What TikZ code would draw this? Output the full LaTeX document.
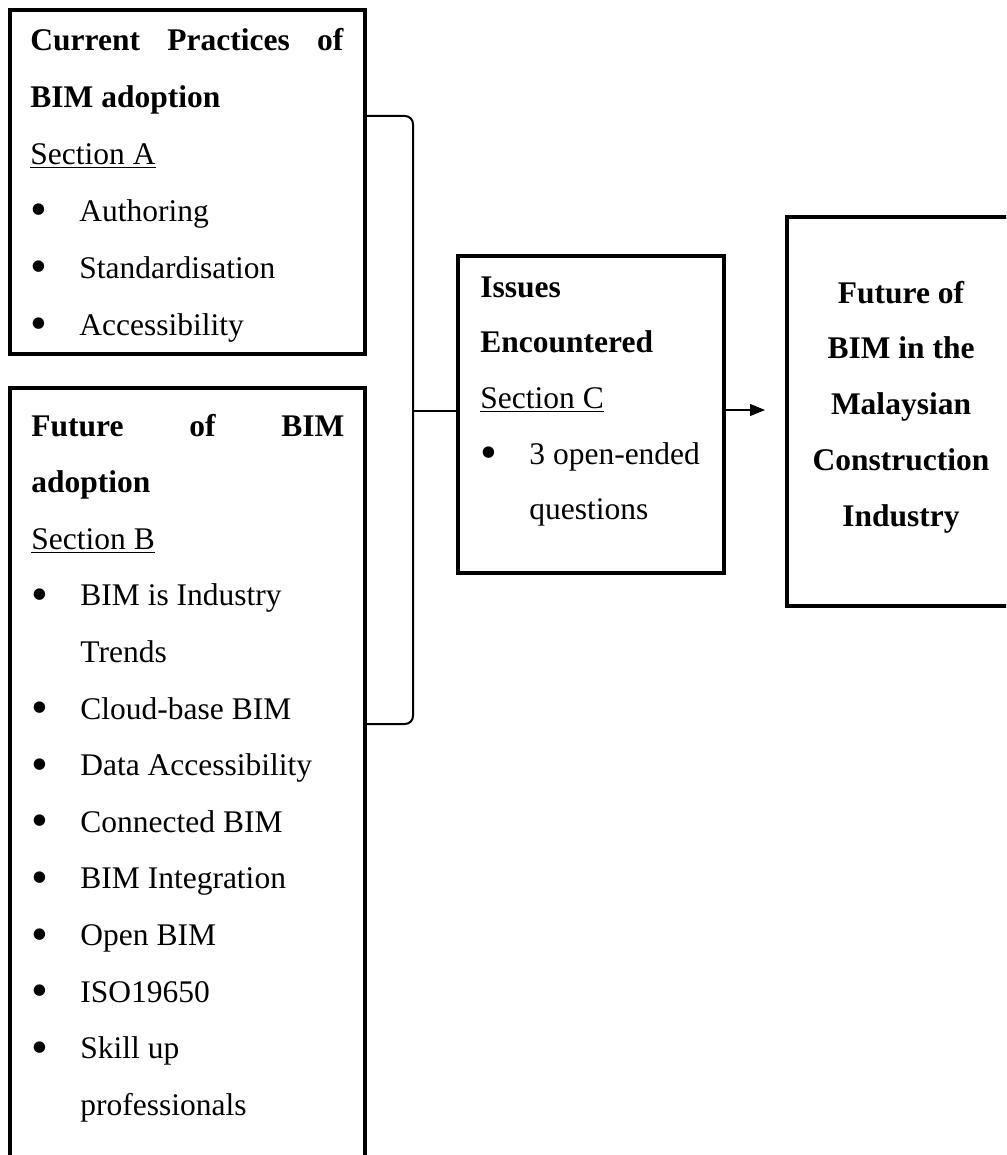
\documentclass[tikz,border=0pt]{standalone}
\usepackage{fontspec}
\setmainfont{Liberation Serif}
\usetikzlibrary{arrows.meta}

\newcommand{\diagfont}{\fontsize{15.75}{18}\selectfont}
\newcommand{\hd}[1]{\makebox[156.5pt][s]{\bfseries #1}}
\newcommand{\bul}[1]{\makebox[24.5pt][l]{\raisebox{-2.3pt}{\fontsize{24}{24}\selectfont\textbullet}}#1}
\newcommand{\cont}[1]{\hspace{24.5pt}#1}

\begin{document}
\begin{tikzpicture}
[x=0.5pt,y=-0.5pt,%
  box/.style={draw,line width=2pt,inner sep=0pt,outer sep=0pt,anchor=north west},%
  txt/.style={anchor=base west,inner sep=0pt,font=\diagfont},%
  mid/.style={anchor=base,inner sep=0pt,font=\diagfont\bfseries},%
  link/.style={line width=1pt},%
  feedline/.style={line width=0.65pt},%
  flow/.style={line width=0.55pt,-{Triangle[length=7.5pt,width=6pt]}}]
\useasboundingbox (0,0) rectangle (1006,1155);
\clip (0,0) rectangle (1006,1155);
%% boxes
\node[box,minimum width=177.5pt,minimum height=172pt] (boxA) at (10,10) {};
\node[box,minimum width=177.5pt,minimum height=406pt] (boxB) at (10,388) {};
\node[box,minimum width=133pt,minimum height=158.5pt] (issues) at (458,256) {};
\node[box,minimum width=114pt,minimum height=194.5pt] (future) at (787,217) {};
%% box texts
\foreach \txt [count=\i from 0] in {
  {\hd{Current Practices of}}, {\textbf{BIM adoption}}, {\underline{Section A}},
  {\bul{Authoring}}, {\bul{Standardisation}}, {\bul{Accessibility}}}
{
  \node[txt] (a\i) at (30,{51+56.8*\i}) {\txt};
}
\foreach \txt [count=\i from 0] in {
  {\hd{Future of BIM}}, {\textbf{adoption}}, {\underline{Section B}},
  {\bul{BIM is Industry}}, {\cont{Trends}}, {\bul{Cloud-base BIM}},
  {\bul{Data Accessibility}}, {\bul{Connected BIM}}, {\bul{BIM Integration}},
  {\bul{Open BIM}}, {\bul{ISO19650}}, {\bul{Skill up}}, {\cont{professionals}}}
{
  \node[txt] (b\i) at (31,{436+56.6*\i}) {\txt};
}
\foreach \txt [count=\i from 0] in {
  {\textbf{Issues}}, {\textbf{Encountered}}, {\underline{Section C}},
  {\bul{3 open-ended}}, {\cont{questions}}}
{
  \node[txt] (c\i) at (480,{297+55.7*\i}) {\txt};
}
\foreach \txt [count=\i from 0] in {
  Future of, BIM in the, Malaysian, Construction, Industry}
{
  \node[mid] (f\i) at (901,{303+55.8*\i}) {\txt};
}
%% bracket and arrow
\coordinate (brtop) at (413,116);
\coordinate (brbot) at (413,724);
\coordinate (brmid) at (413,411);
\coordinate (tip) at (765,410);
\draw[link,rounded corners=4pt] (boxA.east |- brtop) -- (brtop) -- (brbot) -- (boxB.east |- brbot);
\draw[feedline] (brmid) -- (brmid -| issues.west);
\draw[flow] (tip -| issues.east) -- (tip);
\end{tikzpicture}
\end{document}
